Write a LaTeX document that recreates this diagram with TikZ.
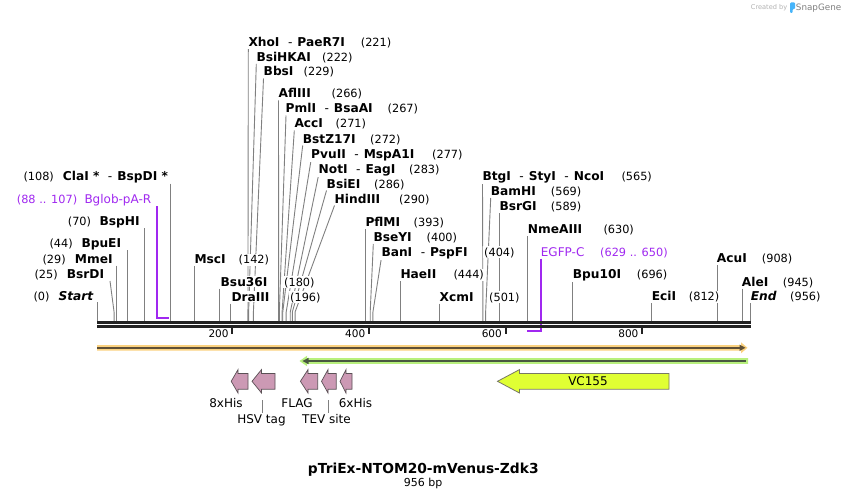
\documentclass[tikz,border=0pt]{standalone}
\usepackage{fontspec}
\setmainfont{DejaVu Sans}
\definecolor{cutgray}{RGB}{128,128,128}
\definecolor{dnablack}{RGB}{34,34,34}
\definecolor{primer}{RGB}{160,40,240}
\definecolor{orband}{RGB}{251,210,128}
\definecolor{ordark}{RGB}{95,80,55}
\definecolor{grband}{RGB}{184,240,125}
\definecolor{grdark}{RGB}{72,88,64}
\definecolor{tagpink}{RGB}{204,153,180}
\definecolor{tagedge}{RGB}{90,80,85}
\definecolor{venus}{RGB}{224,255,51}
\definecolor{venusedge}{RGB}{120,120,100}
\definecolor{sgblue}{RGB}{70,180,250}
\tikzset{
 nm/.style={font=\fontsize{12.2}{14}\selectfont\bfseries, anchor=base west, fill=white, inner xsep=1.5pt, inner ysep=1pt, xshift=-1.5pt},
 nmit/.style={nm, font=\fontsize{12.2}{14}\selectfont\bfseries\itshape},
 num/.style={font=\fontsize{11.3}{13}\selectfont, anchor=base west, fill=white, inner xsep=1.5pt, inner ysep=1pt, xshift=-1.5pt},
 prm/.style={font=\fontsize{12}{14}\selectfont, text=primer, anchor=base west, inner sep=0pt},
 prmnum/.style={font=\fontsize{11.3}{13}\selectfont, text=primer, anchor=base west, inner sep=0pt},
 cutline/.style={draw=cutgray, line width=0.9pt},
 primerline/.style={draw=primer, line width=1.6pt},
 tagarr/.style={draw=tagedge, fill=tagpink, line width=0.7pt, line join=miter},
 ftlbl/.style={font=\fontsize{12}{14}\selectfont, anchor=base, inner sep=0pt},
 ticklbl/.style={font=\fontsize{10.5}{12}\selectfont, anchor=base east, inner sep=0pt},
}
\newcommand\hyph{\hspace{8.5pt}{\mdseries -}\hspace{5pt}}
\newcommand\siteline[3]{\pgfmathsetmacro\siteX{97+#1*0.683}\draw[cutline] (#2,#3) -- (\siteX,312) -- (\siteX,321);}
\newcommand\vsite[2]{\pgfmathsetmacro\siteX{97+#1*0.683}\draw[cutline] (\siteX,#2) -- (\siteX,321);}
\newcommand\tagarrow[3]{\draw[tagarr] (#1,381.3) -- (#2,369.6) -- (#2,373.4) -- (#3,373.4) -- (#3,389.2) -- (#2,389.2) -- (#2,393) -- cycle;}
\begin{document}
\begin{tikzpicture}[x=1pt,y=-1pt]
\fill[white] (0,0) rectangle (848,500);
\path[use as bounding box] (0,0) rectangle (848,500);

% ---------- cut-site lines ----------
\siteline{221}{248.3}{49.2}
\siteline{222}{256.3}{63.8}
\siteline{229}{263.5}{78.5}
\siteline{266}{278.5}{100.5}
\siteline{267}{286}{115.5}
\siteline{271}{294.3}{130.5}
\siteline{272}{302.7}{145.5}
\siteline{277}{311}{160.5}
\siteline{283}{318.5}{175.5}
\siteline{286}{326.5}{190.5}
\siteline{290}{334.5}{205.5}
\vsite{142}{266}
\vsite{180}{288.5}
\vsite{196}{303.5}
\vsite{393}{229}
\siteline{400}{373.3}{244}
\siteline{404}{381.3}{258.5}
\vsite{444}{281}
\vsite{501}{303.5}
\siteline{565}{482.5}{183}
\siteline{569}{490.7}{198}
\vsite{589}{213}
\vsite{630}{236}
\vsite{696}{281}
\vsite{812}{303}
\vsite{908}{265}
\vsite{945}{288.5}
\vsite{956}{303}
\vsite{108}{183.5}
\vsite{70}{228}
\vsite{44}{250}
\vsite{29}{265.5}
\siteline{25}{110}{281}
\vsite{0}{302}

% ---------- primer brackets ----------
\draw[primerline] (156.7,206) -- (156.7,317.7) -- (168.7,317.7);
\draw[primerline] (540.7,258.5) -- (540.7,330.7) -- (526.7,330.7);

% ---------- DNA ----------
\draw[dnablack, line width=2.7pt] (97,322.3) -- (751,322.3);
\draw[dnablack, line width=2.7pt] (97,326.3) -- (751,326.3);
\foreach \t in {200,400,600,800}{
  \pgfmathsetmacro\tx{97+\t*0.683-1.3}
  \draw[dnablack, line width=2pt] (\tx,327) -- (\tx,334.3);
  \node[ticklbl] (tick\t) at (\tx-3.5,337.5) {\t};
}

% ---------- labels: right-hand ----------
\node[nm] (xho) at (248.3,46.7) {XhoI\hyph PaeR7I};
\node[num] (n221) at (360.7,46.7) {(221)};
\node[nm] (bsihk) at (256.3,61.3) {BsiHKAI};
\node[num] (n222) at (322,61.3) {(222)};
\node[nm] (bbs) at (263.5,76) {BbsI};
\node[num] (n229) at (303.5,76) {(229)};
\node[nm] (afl) at (278.5,98) {AflIII};
\node[num] (n266) at (331.5,98) {(266)};
\node[nm] (pml) at (285.5,113) {PmlI\hyph BsaAI};
\node[num] (n267) at (387.5,113) {(267)};
\node[nm] (acc) at (294.3,128) {AccI};
\node[num] (n271) at (335.5,128) {(271)};
\node[nm] (bstz) at (302.7,143) {BstZ17I};
\node[num] (n272) at (370,143) {(272)};
\node[nm] (pvu) at (311,158) {PvuII\hyph MspA1I};
\node[num] (n277) at (432,158) {(277)};
\node[nm] (noti) at (318.5,173) {NotI\hyph EagI};
\node[num] (n283) at (409,173) {(283)};
\node[nm] (bsie) at (326.5,188) {BsiEI};
\node[num] (n286) at (374,188) {(286)};
\node[nm] (hind) at (334.5,203) {HindIII};
\node[num] (n290) at (399,203) {(290)};
\node[nm] (msc) at (194.3,263.5) {MscI};
\node[num] (n142) at (238.5,263.5) {(142)};
\node[nm] (bsu) at (220.5,286) {Bsu36I};
\node[num] (n180) at (284,286) {(180)};
\node[nm] (dra) at (231.3,301) {DraIII};
\node[num] (n196) at (290,301) {(196)};
\node[nm] (pfl) at (365.3,226.7) {PflMI};
\node[num] (n393) at (413.5,226.7) {(393)};
\node[nm] (bsey) at (373.3,241.7) {BseYI};
\node[num] (n400) at (426.5,241.7) {(400)};
\node[nm] (ban) at (381.3,256) {BanI\hyph PspFI};
\node[num] (n404) at (484,256) {(404)};
\node[nm] (hae) at (400.3,278.3) {HaeII};
\node[num] (n444) at (453.3,278.3) {(444)};
\node[nm] (xcm) at (439.5,301) {XcmI};
\node[num] (n501) at (489,301) {(501)};
\node[nm] (btg) at (482.3,180.7) {BtgI\hyph StyI\hyph NcoI};
\node[num] (n565) at (621.3,180.7) {(565)};
\node[nm] (bam) at (490.7,195.7) {BamHI};
\node[num] (n569) at (550.7,195.7) {(569)};
\node[nm] (bsrg) at (499.3,210.7) {BsrGI};
\node[num] (n589) at (550.7,210.7) {(589)};
\node[nm] (nme) at (527.7,233.3) {NmeAIII};
\node[num] (n630) at (603.3,233.3) {(630)};
\node[nm] (bpu10) at (572.7,278.3) {Bpu10I};
\node[num] (n696) at (636.7,278.3) {(696)};
\node[nm] (eci) at (651.7,300.7) {EciI};
\node[num] (n812) at (688.7,300.7) {(812)};
\node[nm] (acu) at (716.7,262.7) {AcuI};
\node[num] (n908) at (761.7,262.7) {(908)};
\node[nm] (ale) at (741.7,286) {AleI};
\node[num] (n945) at (782.7,286) {(945)};
\node[nmit] (endl) at (750.7,300.7) {End};
\node[num] (n956) at (790,300.7) {(956)};

% ---------- labels: left-hand ----------
\node[num] (n108) at (23.3,180.7) {(108)};
\node[nm] (cla) at (62.7,180.7) {ClaI *\hyph BspDI *};
\node[num] (n70) at (67.7,225.7) {(70)};
\node[nm] (bsph) at (99.3,225.7) {BspHI};
\node[num] (n44) at (49.3,247.7) {(44)};
\node[nm] (bpue) at (81.3,247.7) {BpuEI};
\node[num] (n29) at (42.3,263.3) {(29)};
\node[nm] (mme) at (74.7,263.3) {MmeI};
\node[num] (n25) at (34.3,278.3) {(25)};
\node[nm] (bsrd) at (66.7,278.3) {BsrDI};
\node[num] (n0) at (33.3,300.7) {(0)};
\node[nmit] (startl) at (58.3,300.7) {Start};

% ---------- primer labels ----------
\node[prmnum] (bgn) at (16.7,203.3) {(88 .. 107)};
\node[prm] (bg) at (84.3,203.3) {Bglob-pA-R};
\node[prm] (egfp) at (540.7,256) {EGFP-C};
\node[prmnum] (egfpn) at (600,256) {(629 .. 650)};

% ---------- feature bars ----------
\fill[orband] (97,345) -- (741,345) -- (741,342.3) -- (747.5,347.8) -- (741,353.3) -- (741,350.6) -- (97,350.6) -- cycle;
\draw[ordark, line width=2pt] (97,347.8) -- (741,347.8);
\fill[ordark] (739.5,344.6) -- (745.5,347.8) -- (739.5,351) -- cycle;
\fill[grband] (748,358.2) -- (307,358.2) -- (307,355.8) -- (299.5,361) -- (307,366.2) -- (307,363.8) -- (748,363.8) -- cycle;
\draw[grdark, line width=2pt] (745.7,361) -- (307,361);
\fill[grdark] (308.5,357.8) -- (302.5,361) -- (308.5,364.2) -- cycle;

% ---------- features ----------
\tagarrow{231.2}{238}{248}
\tagarrow{252}{261.5}{275}
\tagarrow{300.4}{308}{317.7}
\tagarrow{321.5}{328}{336.2}
\tagarrow{340}{346}{352}
\draw[draw=venusedge, fill=venus, line width=0.8pt] (497.5,381.3) -- (519.5,369.6) -- (519.5,373.4) -- (669,373.4) -- (669,389.2) -- (519.5,389.2) -- (519.5,393) -- cycle;
\node[ftlbl] (vc) at (588,385.6) {VC155};
\node[ftlbl] (l8his) at (226,407) {8xHis};
\node[ftlbl] (lflag) at (297,407) {FLAG};
\node[ftlbl] (l6his) at (355.5,407) {6xHis};
\node[ftlbl] (lhsv) at (261.5,423.5) {HSV tag};
\node[ftlbl] (ltev) at (326.5,423.5) {TEV site};
\draw[cutgray, line width=0.8pt] (262.7,400) -- (262.7,412.5);
\draw[cutgray, line width=0.8pt] (328.8,400) -- (328.8,412.5);

% ---------- title ----------
\node[font=\fontsize{13.8}{16}\selectfont\bfseries, anchor=base, inner sep=0pt] (title) at (423.3,473.3) {pTriEx-NTOM20-mVenus-Zdk3};
\node[font=\fontsize{11}{13}\selectfont, anchor=base, inner sep=0pt] (len) at (423.2,486) {956 bp};

% ---------- credit ----------
\node[font=\fontsize{6.6}{8}\selectfont, text=black!30, anchor=base west, inner sep=0pt] (cred) at (750.7,9.8) {Created by};
\fill[sgblue, rounded corners=1pt] (790,2.5) -- (795,2.5) -- (795,9) -- (792.6,9) -- (792.6,13) -- (790,13) -- cycle;
\node[font=\fontsize{8.8}{10}\selectfont, text=black!50, anchor=base west, inner sep=0pt] (sg) at (795.7,10.5) {SnapGene};
\end{tikzpicture}
\end{document}
